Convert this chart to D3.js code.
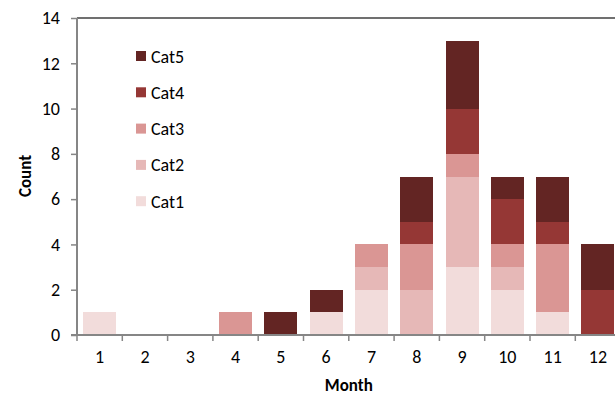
<!DOCTYPE html>
<html>
<head>
<meta charset="utf-8">
<script src="https://cdn.jsdelivr.net/npm/d3@7"></script>
<style>
  body { margin: 0; background: #fff; }
  text { font-family: Carlito, Lato, "Open Sans", sans-serif; fill: #000; }
</style>
</head>
<body>
<div id="chart"></div>
<script>
const months = ["1", "2", "3", "4", "5", "6", "7", "8", "9", "10", "11", "12"];
const seriesNames = ["Cat1", "Cat2", "Cat3", "Cat4", "Cat5"];
const cat1 = [1, 0, 0, 0, 0, 1, 2, 0, 3, 2, 1, 0];
const cat2 = [0, 0, 0, 0, 0, 0, 1, 2, 4, 1, 0, 0];
const cat3 = [0, 0, 0, 1, 0, 0, 1, 2, 1, 1, 3, 0];
const cat4 = [0, 0, 0, 0, 0, 0, 0, 1, 2, 2, 1, 2];
const cat5 = [0, 0, 0, 0, 1, 1, 0, 2, 3, 1, 2, 2];
const yTicks = [0, 2, 4, 6, 8, 10, 12, 14];
const colors = ["#f2dcdb", "#e6b8b7", "#da9694", "#953735", "#632523"];

let width = 615, height = 395;
let plotLeft = 77, plotTop = 18, plotBottom = 335;
let step = 45.3;

let svg = d3.select("#chart").append("svg").attr("width", width).attr("height", height);

let rows = months.map((m, i) => ({ month: m, Cat1: cat1[i], Cat2: cat2[i], Cat3: cat3[i], Cat4: cat4[i], Cat5: cat5[i] }));
let stacked = d3.stack().keys(seriesNames)(rows);

let x = d3.scaleBand().domain(months).range([plotLeft, plotLeft + step * months.length])
    .paddingInner(0.27).paddingOuter(0.135);
let y = d3.scaleLinear().domain([0, 14]).range([plotBottom, plotTop]);

// top border of plot area
svg.append("line")
    .attr("x1", plotLeft).attr("x2", width)
    .attr("y1", y(14)).attr("y2", y(14))
    .attr("stroke", "#404040").attr("stroke-width", 1.5);

svg.selectAll(".layer").data(stacked).enter().append("g")
    .attr("fill", (d, i) => colors[i])
    .selectAll("rect").data(d => d).enter().append("rect")
    .attr("x", d => x(d.data.month))
    .attr("width", x.bandwidth())
    .attr("y", d => y(d[1]))
    .attr("height", d => y(d[0]) - y(d[1]))
    .attr("shape-rendering", "crispEdges");

// y axis
let yAxis = svg.append("g").attr("transform", `translate(${plotLeft},0)`)
    .call(d3.axisLeft(y).tickValues(yTicks).tickSize(6).tickPadding(11));
yAxis.attr("font-size", null).attr("font-family", null);
yAxis.select(".domain").attr("stroke", "#868686").attr("stroke-width", 2).attr("d", `M0,${plotTop}V${plotBottom}`);
yAxis.selectAll(".tick line").attr("stroke", "#868686").attr("stroke-width", 1.5);
yAxis.selectAll(".tick text").style("font-size", "18px");

// x axis
let xAxis = svg.append("g").attr("transform", `translate(0,${plotBottom})`)
    .call(d3.axisBottom(x).tickSize(0).tickPadding(15));
xAxis.attr("font-size", null).attr("font-family", null);
xAxis.select(".domain").attr("stroke", "#868686").attr("stroke-width", 2).attr("d", `M${plotLeft - 6},0H${width}`);
xAxis.selectAll(".tick text").style("font-size", "18px");
xAxis.selectAll(".sep").data(d3.range(months.length + 1)).enter().append("line")
    .attr("x1", i => plotLeft + i * step).attr("x2", i => plotLeft + i * step)
    .attr("y1", 0).attr("y2", 6)
    .attr("stroke", "#868686").attr("stroke-width", 1.5);

// axis titles
svg.append("text")
    .attr("x", plotLeft + step * 6).attr("y", 391)
    .attr("text-anchor", "middle")
    .style("font-size", "17px").style("font-weight", "bold")
    .text("Month");
svg.append("text")
    .attr("transform", "translate(31,176) rotate(-90)")
    .attr("text-anchor", "middle")
    .style("font-size", "17px").style("font-weight", "bold")
    .text("Count");

// legend, top entry is the last series
let legend = svg.selectAll(".legend").data(seriesNames.slice().reverse()).enter().append("g")
    .attr("transform", (d, i) => `translate(136,${56 + i * 36.3})`);
legend.append("rect")
    .attr("x", 0).attr("y", -5).attr("width", 10).attr("height", 10)
    .attr("fill", d => colors[seriesNames.indexOf(d)]);
legend.append("text")
    .attr("x", 15).attr("y", 6.5)
    .style("font-size", "18px")
    .text(d => d);
</script>
</body>
</html>
